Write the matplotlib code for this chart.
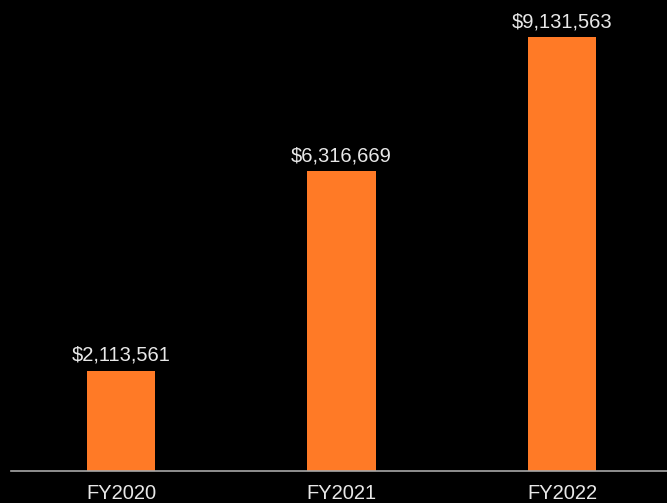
import matplotlib.pyplot as plt

years = ["FY2020", "FY2021", "FY2022"]
revenue = [2113561, 6316669, 9131563]

plt.rcParams['font.family'] = ['Liberation Sans', 'DejaVu Sans']

fig = plt.figure(figsize=(6.67, 5.03), dpi=100, facecolor="black")
ax = fig.add_axes([11 / 667, 32 / 503, 656 / 667, 471 / 503])
ax.set_facecolor("black")

x = range(len(years))
bars = ax.bar(x, revenue, width=0.31, color="#FF7A26")

for xi, v in zip(x, revenue):
    ax.annotate(f"${v:,}", (xi, v), xytext=(0, 7), textcoords="offset points",
                ha="center", va="baseline", color="#E8E8E8", fontsize=14.5)

ax.set_xlim(-0.5, 2.476)
ax.set_ylim(0, 9131563 * 471 / 434)
ax.set_xticks(list(x))
ax.set_xticklabels(years, color="#E8E8E8", fontsize=14.5)
ax.tick_params(axis="x", length=0, pad=9.5)
ax.set_yticks([])
for s in ["top", "right", "left"]:
    ax.spines[s].set_visible(False)
ax.spines["bottom"].set_color("#A8A8A8")
ax.spines["bottom"].set_linewidth(1.2)

fig.savefig("out.png", dpi=100, facecolor="black")
